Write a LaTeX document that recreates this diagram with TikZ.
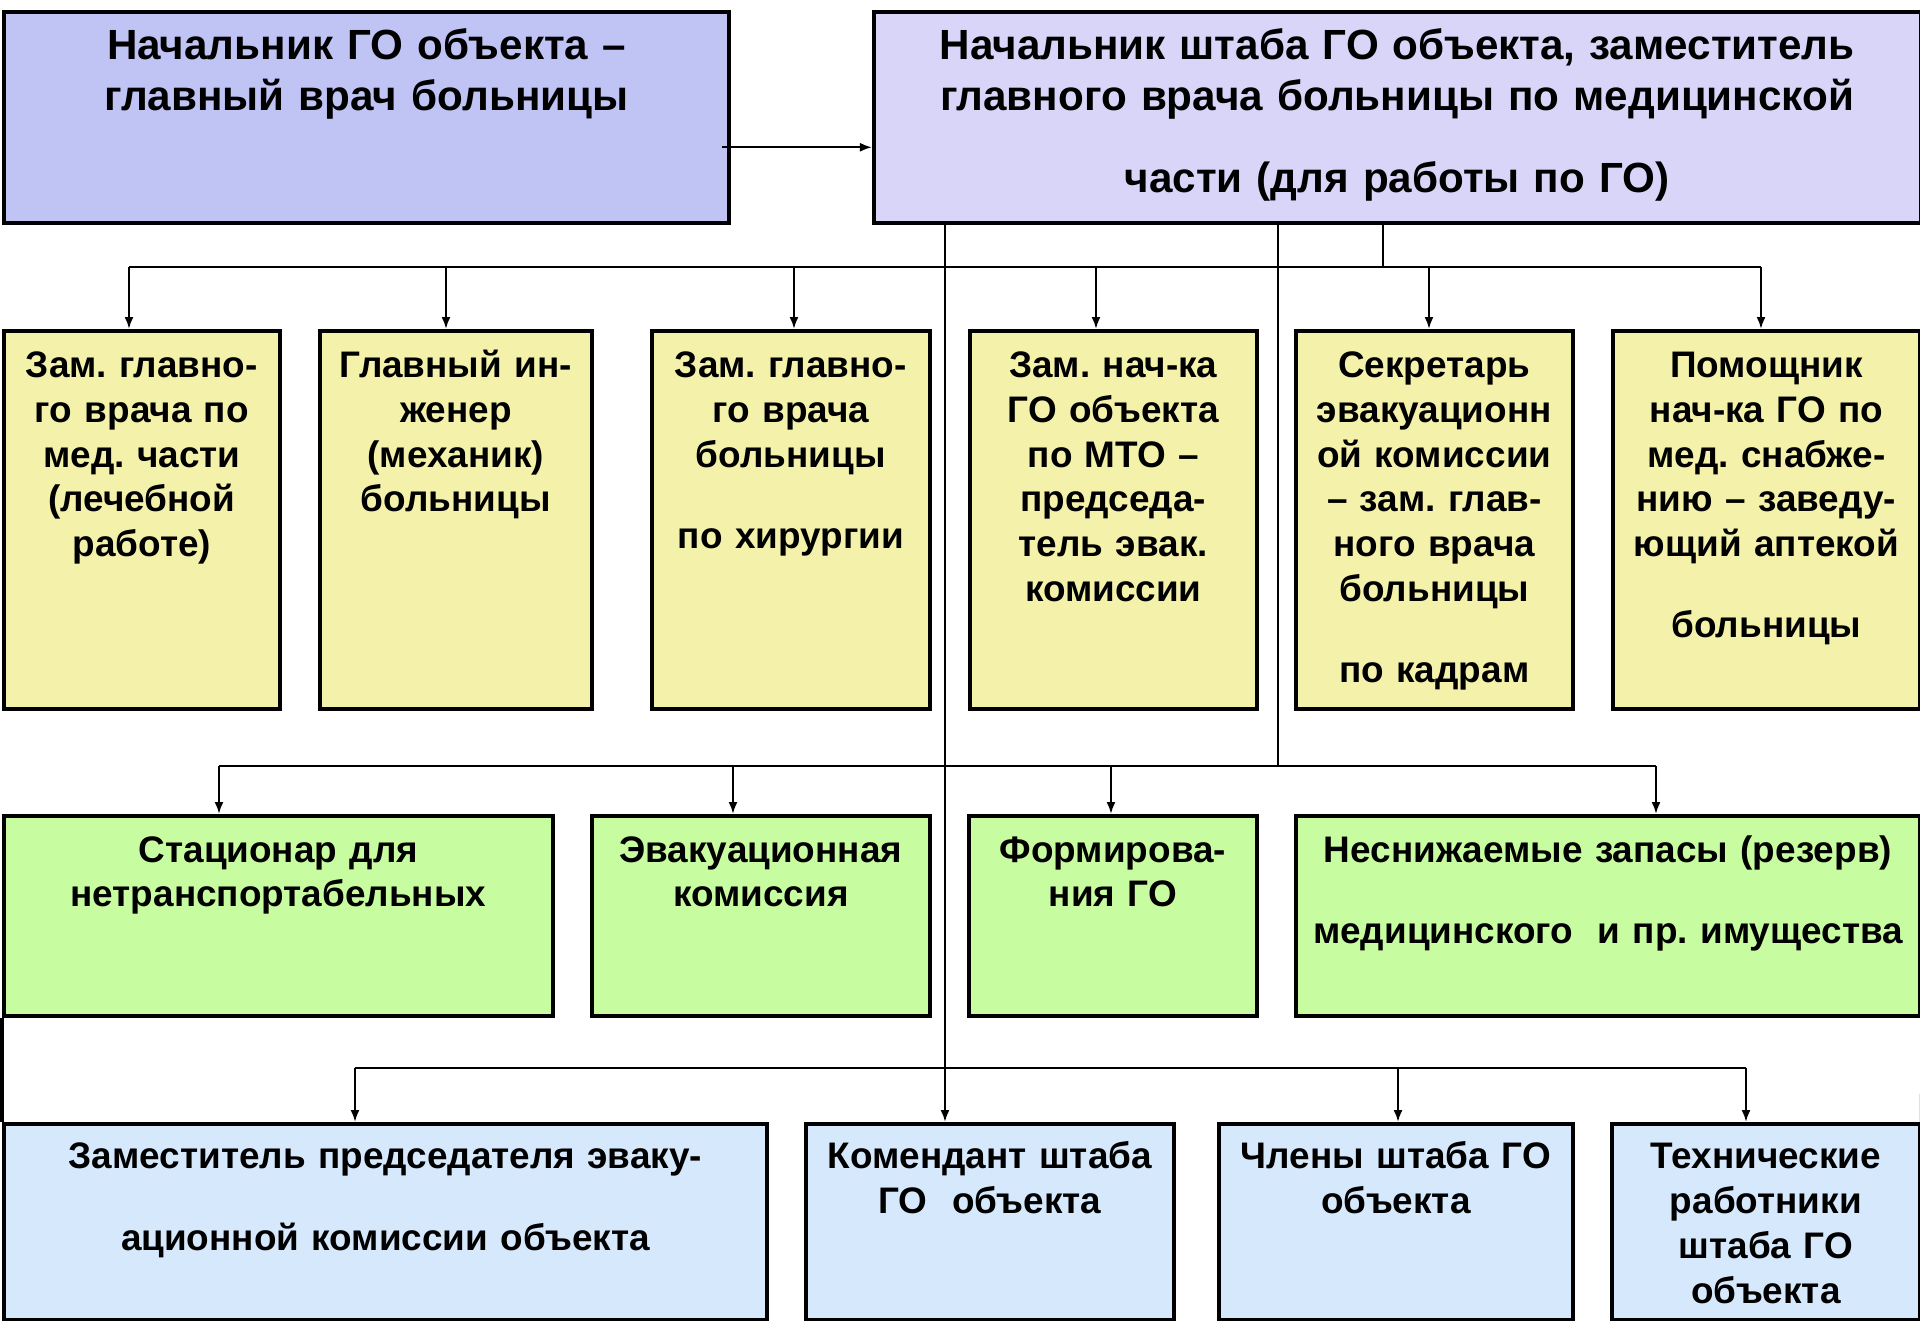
\documentclass[tikz,border=0pt]{standalone}
\usepackage{fontspec}
\setmainfont{Liberation Sans}
\usetikzlibrary{arrows.meta,positioning}

\definecolor{chiefcol}{RGB}{192,196,245}
\definecolor{staffcol}{RGB}{216,213,248}
\definecolor{deputycol}{RGB}{244,242,170}
\definecolor{unitcol}{RGB}{200,252,160}
\definecolor{aidecol}{RGB}{213,232,252}

\begin{document}
\frenchspacing
\begin{tikzpicture}[x=0.01cm,y=-0.01cm,
        box/.style={draw=black,line width=1pt,inner sep=0pt,anchor=north west,align=center},
        headbox/.style={box,font=\fontsize{12}{14.5}\selectfont\bfseries,text height=13.6pt,text depth=46.4pt},
        depbox/.style={box,fill=deputycol,font=\fontsize{10.5}{12.7}\selectfont\bfseries,text height=13.4pt,text depth=94.1pt},
        unitbox/.style={box,fill=unitcol,font=\fontsize{10.5}{12.5}\selectfont\bfseries,text height=13.4pt,text depth=43.5pt},
        aidebox/.style={box,fill=aidecol,font=\fontsize{10.5}{12.8}\selectfont\bfseries,text height=12.8pt,text depth=43pt},
        link/.style={line width=0.6pt},
        arr/.style={link,-{Latex[length=1.2mm,width=0.9mm]}}]
    \useasboundingbox (0,0) rectangle (1920,1320);

    \node[headbox,fill=chiefcol,text width=7.25cm] (chief) at (2,10)
        {Начальник ГО объекта –\\главный врач больницы};
    \node[headbox,fill=staffcol,text width=10.46cm] (staff) at (872,10)
        {Начальник штаба ГО объекта, заместитель\\главного врача больницы по медицинской\\[8.8pt]части (для работы по ГО)};

    \node[depbox,text width=2.76cm] (dep1) at (2,329) {Зам. главно-\\го врача по\\мед. части\\(лечебной\\работе)};
    \node[depbox,text width=2.72cm] (dep2) at (318,329) {Главный ин-\\женер\\(механик)\\больницы};
    \node[depbox,text width=2.78cm] (dep3) at (650,329) {Зам. главно-\\го врача\\больницы\\[10.3pt]по хирургии};
    \node[depbox,text width=2.87cm] (dep4) at (968,329) {Зам. нач-ка\\ГО объекта\\по МТО –\\председа-\\тель эвак.\\комиссии};
    \node[depbox,text width=2.77cm] (dep5) at (1294,329) {Секретарь\\эвакуационн\\ой комиссии\\– зам. глав-\\ного врача\\больницы\\[10.3pt]по кадрам};
    \node[depbox,text width=3.07cm] (dep6) at (1611,329) {Помощник\\нач-ка ГО по\\мед. снабже-\\нию – заведу-\\ющий аптекой\\[10.3pt]больницы};

    \node[unitbox,text width=5.49cm] (unit1) at (2,814) {Стационар для\\нетранспортабельных};
    \node[unitbox,text width=3.38cm] (unit2) at (590,814) {Эвакуационная\\комиссия};
    \node[unitbox,text width=2.88cm] (unit3) at (967,814) {Формирова-\\ния ГО};
    \node[unitbox,text width=6.24cm] (unit4) at (1294,814) {Неснижаемые запасы (резерв)\\[10.3pt]медицинского\ \ и пр. имущества};

    \node[aidebox,text width=7.63cm] (aide1) at (2,1122) {Заместитель председателя эваку-\\[10.3pt]ационной комиссии объекта};
    \node[aidebox,text width=3.68cm] (aide2) at (804,1122) {Комендант штаба\\ГО\ \ объекта};
    \node[aidebox,text width=3.54cm] (aide3) at (1217,1122) {Члены штаба ГО\\объекта};
    \node[aidebox,text width=3.08cm] (aide4) at (1610,1122) {Технические\\работники\\штаба ГО\\объекта};

    \draw[arr] ([shift={(-9,30)}]chief.east) -- ([shift={(0,30)}]staff.west);

    \coordinate (bus1) at (1383,267);
    \coordinate (bus2) at (1278,766);
    \draw[link] (bus1 |- staff.south) -- (bus1);
    \draw[link] (129,267) -- (1761,267);
    \foreach \x/\n in {129/dep1,446/dep2,794/dep3,1096/dep4,1429/dep5,1761/dep6}
        \draw[arr] (\x,267) -- (\x,0 |- \n.north);

    \draw[link] (bus2 |- staff.south) -- (bus2);
    \draw[link] (219,766) -- (1656,766);
    \foreach \x/\n in {219/unit1,733/unit2,1111/unit3,1656/unit4}
        \draw[arr] (\x,766) -- (\x,0 |- \n.north);

    \draw[arr] (945,0 |- staff.south) -- (945,0 |- aide2.north);
    \draw[link] (355,1068) -- (1746,1068);
    \foreach \x/\n in {355/aide1,1398/aide3,1746/aide4}
        \draw[arr] (\x,1068) -- (\x,0 |- \n.north);

    \draw[line width=1pt] (unit1.south west) -- (aide1.north west);
    \draw[line width=1pt] (unit4.south east) -- (aide4.north east);
\end{tikzpicture}
\end{document}
